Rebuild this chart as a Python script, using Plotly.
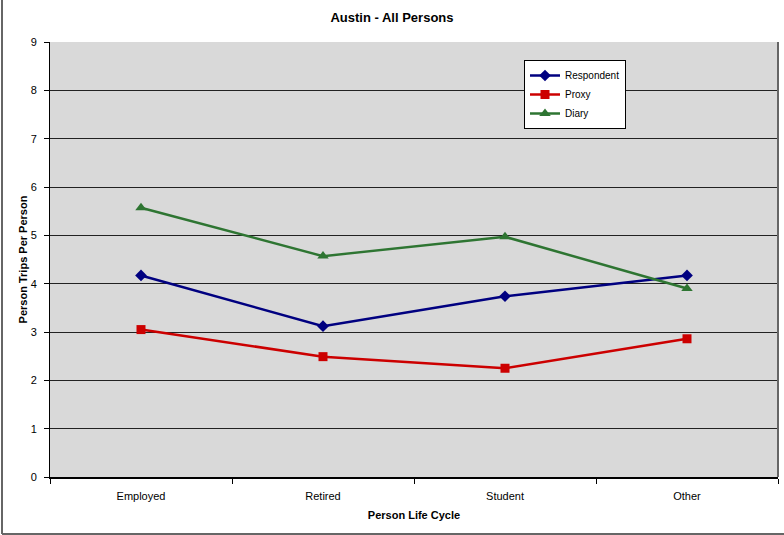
import plotly.graph_objects as go

categories = ["Employed", "Retired", "Student", "Other"]
respondent = [4.17, 3.12, 3.74, 4.17]
proxy = [3.05, 2.49, 2.25, 2.86]
diary = [5.57, 4.57, 4.97, 3.90]
y_ticks = list(range(0, 10))

FONT = "Liberation Sans, Arial, sans-serif"

fig = go.Figure()
series = [
    ("Respondent", respondent, "#000080", "diamond", 9),
    ("Proxy", proxy, "#cc0000", "square", 9),
    ("Diary", diary, "#2e7532", "triangle-up", 10),
]
for name, vals, color, symbol, size in series:
    fig.add_trace(go.Scatter(
        x=categories, y=vals, name=name, mode="lines+markers",
        line=dict(color=color, width=2.5),
        marker=dict(symbol=symbol, size=size, color=color),
    ))

fig.update_layout(
    width=784, height=535,
    margin=dict(l=50, r=6, t=42, b=58),
    paper_bgcolor="white",
    plot_bgcolor="#d9d9d9",
    font=dict(family=FONT, size=11, color="black"),
    title=dict(text="<b>Austin - All Persons</b>", x=0.5, xanchor="center",
               y=1 - 17 / 535, yanchor="middle", font=dict(size=13)),
    showlegend=True,
    legend=dict(
        x=(524 - 50) / 728, y=1 - (60 - 42) / 435, xanchor="left", yanchor="top",
        bgcolor="white", bordercolor="black", borderwidth=1,
        font=dict(size=10), tracegroupgap=0, itemwidth=30,
    ),
    xaxis=dict(
        type="category", range=[-0.5, 3.5],
        showgrid=False, showline=True, linecolor="black", linewidth=2,
        ticks="outside", tickson="boundaries", ticklen=5, tickcolor="black",
        ticklabelstandoff=8,
        title=dict(text="<b>Person Life Cycle</b>", font=dict(size=11), standoff=10),
        tickfont=dict(size=11),
    ),
    yaxis=dict(
        range=[0, 9], tickvals=y_ticks,
        showgrid=True, gridcolor="#222222", gridwidth=1,
        showline=True, linecolor="black", linewidth=1,
        ticks="outside", ticklen=5, tickcolor="black",
        ticklabelstandoff=5,
        zeroline=False,
        title=dict(text="<b>Person Trips Per Person</b>", font=dict(size=11), standoff=0),
        tickfont=dict(size=11),
    ),
)

# right edge of the plotting area
fig.add_shape(type="line", xref="paper", yref="paper", x0=1, x1=1, y0=0, y1=1,
              line=dict(color="#666666", width=2))
# outer chart frame (left and bottom edges)
fig.add_shape(type="line", xref="paper", yref="paper",
              x0=-48 / 728, x1=-48 / 728, y0=-(534 - 477) / 435, y1=1 + 42 / 435,
              line=dict(color="#666666", width=2))
fig.add_shape(type="line", xref="paper", yref="paper",
              x0=-48 / 728, x1=1 + 6 / 728, y0=-(534 - 477) / 435, y1=-(534 - 477) / 435,
              line=dict(color="#666666", width=2))

fig.write_html("out.html")
